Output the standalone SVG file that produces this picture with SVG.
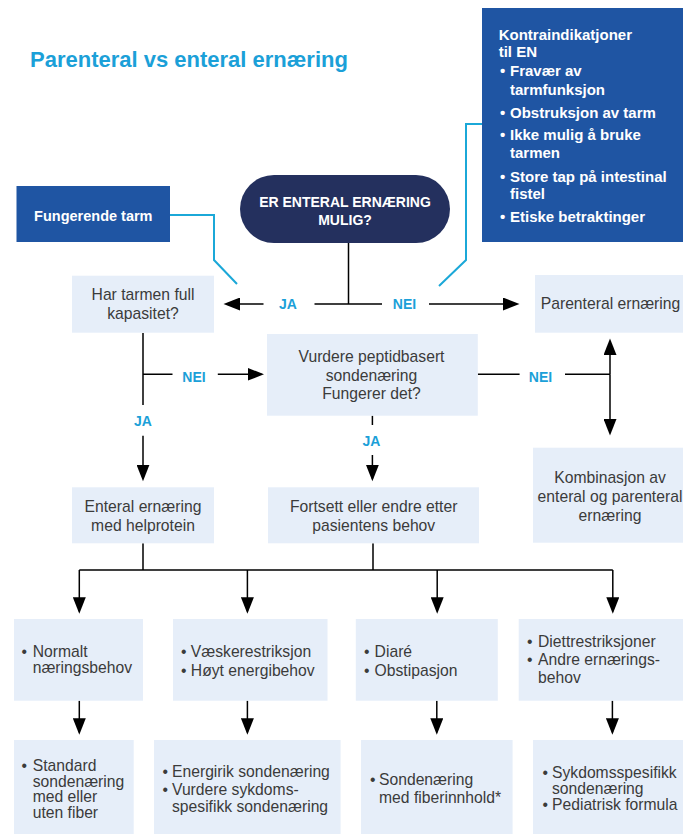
<svg xmlns="http://www.w3.org/2000/svg" width="683" height="834" viewBox="0 0 683 834">
<defs>
<marker id="ah" markerUnits="userSpaceOnUse" markerWidth="17" markerHeight="13" viewBox="0 0 17 13" refX="14" refY="6.5" orient="auto-start-reverse">
<path d="M0,0 L16.5,6.5 L0,13 z" fill="#000"/>
</marker>
<style>
.box{fill:#E6EEF9}
.dk{fill:#1F55A3}
.t{font-family:"Liberation Sans",Arial,sans-serif;font-size:15.7px;fill:#3b3b3b}
.c{text-anchor:middle}
.w{font-family:"Liberation Sans",Arial,sans-serif;font-weight:bold;fill:#fff}
.lb{font-family:"Liberation Sans",Arial,sans-serif;font-weight:bold;font-size:14px;fill:#1BA0D8;text-anchor:middle}
.ln{fill:none;stroke:#000;stroke-width:1.5}
.ar{fill:none;stroke:#000;stroke-width:1.5;marker-end:url(#ah)}
.bl{fill:none;stroke:#1BA8D8;stroke-width:2}
</style>
</defs>
<rect width="683" height="834" fill="#fff"/>
<text x="30" y="67" font-family="Liberation Sans,Arial,sans-serif" font-weight="bold" font-size="22" fill="#1BA0D8">Parenteral vs enteral ernæring</text>

<g id="connectors">
<path class="bl" d="M170,215 H214 V260 L237,284"/>
<path class="bl" d="M482,124 H466 V260 L439,286"/>
<path class="ln" d="M348.5,243 V304 M314.5,304 H382"/>
<path class="ar" d="M263.5,304 H226"/>
<path class="ar" d="M429,304 H517"/>
<path class="ln" d="M143,333 V405 M143,374.3 H172.5"/>
<path class="ar" d="M143,435.7 V478.7"/>
<path class="ar" d="M217.8,374.3 H261.5"/>
<path class="ln" d="M372.4,415.7 V425"/>
<path class="ar" d="M372.4,455 V478.7"/>
<path class="ln" d="M477.8,374.3 H519.6 M565,374.3 H610"/>
<path class="ar" d="M610,374.3 V433"/>
<path class="ar" d="M610,374.3 V341"/>
<path class="ln" d="M143,543.3 V570 M373,543.3 V570 M79.3,570 H612.8"/>
<path class="ar" d="M79.3,570 V611.3"/>
<path class="ar" d="M247.4,570 V611.3"/>
<path class="ar" d="M437.2,570 V611.3"/>
<path class="ar" d="M612.8,570 V611.3"/>
<path class="ar" d="M79.3,700.7 V732.3"/>
<path class="ar" d="M247.4,700.7 V732.3"/>
<path class="ar" d="M436.8,700.7 V732.3"/>
<path class="ar" d="M612.4,700.7 V732.3"/>
<text class="lb" x="288" y="309">JA</text>
<text class="lb" x="404.5" y="309">NEI</text>
<text class="lb" x="194" y="381.5">NEI</text>
<text class="lb" x="143" y="426">JA</text>
<text class="lb" x="371.5" y="446">JA</text>
<text class="lb" x="540.5" y="381.5">NEI</text>
</g>

<g id="kontraindikasjoner">
<rect class="dk" x="482" y="8" width="201" height="234"/>
<text class="w" font-size="15">
<tspan x="498.7" y="40">Kontraindikatjoner</tspan>
<tspan x="498.7" y="57.3">til EN</tspan>
<tspan x="500" y="76">•</tspan><tspan x="510" y="76">Fravær av</tspan>
<tspan x="510" y="95">tarmfunksjon</tspan>
<tspan x="500" y="117.7">•</tspan><tspan x="510" y="117.7">Obstruksjon av tarm</tspan>
<tspan x="500" y="140">•</tspan><tspan x="510" y="140">Ikke mulig å bruke</tspan>
<tspan x="510" y="157.7">tarmen</tspan>
<tspan x="500" y="181.7">•</tspan><tspan x="510" y="181.7">Store tap på intestinal</tspan>
<tspan x="510" y="199">fistel</tspan>
<tspan x="500" y="222.3">•</tspan><tspan x="510" y="222.3">Etiske betraktinger</tspan>
</text>
</g>

<g id="fungerende">
<rect class="dk" x="16.5" y="186" width="153.5" height="56"/>
<text class="w c" font-size="14.5" x="93.3" y="220.7">Fungerende tarm</text>
</g>

<g id="start">
<rect x="240" y="175" width="210" height="68" rx="34" fill="#24305E"/>
<text class="w c" font-size="14" x="345" y="206.7">ER ENTERAL ERNÆRING</text>
<text class="w c" font-size="14" x="345" y="225">MULIG?</text>
</g>

<g id="kapasitet">
<rect class="box" x="72" y="275.7" width="142" height="57"/>
<text class="t c"><tspan x="143" y="300">Har tarmen full</tspan><tspan x="143" y="319">kapasitet?</tspan></text>
</g>

<g id="parenteral">
<rect class="box" x="535" y="275" width="148" height="57.7"/>
<text class="t c" x="610.5" y="309">Parenteral ernæring</text>
</g>

<g id="peptid">
<rect class="box" x="267" y="334" width="210.8" height="81.7"/>
<text class="t c"><tspan x="371.5" y="362.3">Vurdere peptidbasert</tspan><tspan x="371.5" y="380.7">sondenæring</tspan><tspan x="371.5" y="399">Fungerer det?</tspan></text>
</g>

<g id="kombinasjon">
<rect class="box" x="533" y="447.7" width="150" height="95"/>
<text class="t c"><tspan x="610" y="482.7">Kombinasjon av</tspan><tspan x="610" y="501.7">enteral og parenteral</tspan><tspan x="610" y="520.7">ernæring</tspan></text>
</g>

<g id="helprotein">
<rect class="box" x="72" y="487.3" width="142" height="56"/>
<text class="t c"><tspan x="143" y="511.7">Enteral ernæring</tspan><tspan x="143" y="530.7">med helprotein</tspan></text>
</g>

<g id="fortsett">
<rect class="box" x="268" y="487.3" width="211" height="56"/>
<text class="t c"><tspan x="373.7" y="511.7">Fortsett eller endre etter</tspan><tspan x="373.7" y="530.7">pasientens behov</tspan></text>
</g>

<g id="normalt">
<rect class="box" x="14" y="619" width="129" height="81.7"/>
<text class="t"><tspan x="21.5" y="657.3">•</tspan><tspan x="32.7" y="657.3">Normalt</tspan><tspan x="32.7" y="673.3">næringsbehov</tspan></text>
</g>

<g id="vaeske">
<rect class="box" x="173" y="619" width="154.5" height="81.7"/>
<text class="t"><tspan x="181" y="656.7">•</tspan><tspan x="190.8" y="656.7">Væskerestriksjon</tspan><tspan x="181" y="675.7">•</tspan><tspan x="190.8" y="675.7">Høyt energibehov</tspan></text>
</g>

<g id="diare">
<rect class="box" x="355.8" y="619" width="142" height="81.7"/>
<text class="t"><tspan x="364" y="656.7">•</tspan><tspan x="374.6" y="656.7">Diaré</tspan><tspan x="364" y="675.7">•</tspan><tspan x="374.6" y="675.7">Obstipasjon</tspan></text>
</g>

<g id="diett">
<rect class="box" x="518.7" y="619" width="164.3" height="81.7"/>
<text class="t"><tspan x="527" y="647.3">•</tspan><tspan x="538" y="647.3">Diettrestriksjoner</tspan><tspan x="527" y="665.3">•</tspan><tspan x="538" y="665.3">Andre ernærings-</tspan><tspan x="538" y="683.3">behov</tspan></text>
</g>

<g id="standard">
<rect class="box" x="14" y="740" width="119.7" height="94"/>
<text class="t"><tspan x="21.5" y="770.7">•</tspan><tspan x="32.7" y="770.7">Standard</tspan><tspan x="32.7" y="786.7">sondenæring</tspan><tspan x="32.7" y="802.3">med eller</tspan><tspan x="32.7" y="818.3">uten fiber</tspan></text>
</g>

<g id="energirik">
<rect class="box" x="154" y="740" width="186.6" height="94"/>
<text class="t"><tspan x="162.5" y="776.7">•</tspan><tspan x="172" y="776.7">Energirik sondenæring</tspan><tspan x="162.5" y="795">•</tspan><tspan x="172" y="795">Vurdere sykdoms-</tspan><tspan x="172" y="811.7">spesifikk sondenæring</tspan></text>
</g>

<g id="fiber">
<rect class="box" x="361" y="740" width="151.6" height="94"/>
<text class="t"><tspan x="370" y="785">•</tspan><tspan x="379" y="785">Sondenæring</tspan><tspan x="379" y="803.3">med fiberinnhold*</tspan></text>
</g>

<g id="sykdom">
<rect class="box" x="533" y="740" width="150" height="94"/>
<text class="t"><tspan x="542.5" y="778.3">•</tspan><tspan x="552" y="778.3">Sykdomsspesifikk</tspan><tspan x="552" y="794.3">sondenæring</tspan><tspan x="542.5" y="810">•</tspan><tspan x="552" y="810">Pediatrisk formula</tspan></text>
</g>
</svg>
